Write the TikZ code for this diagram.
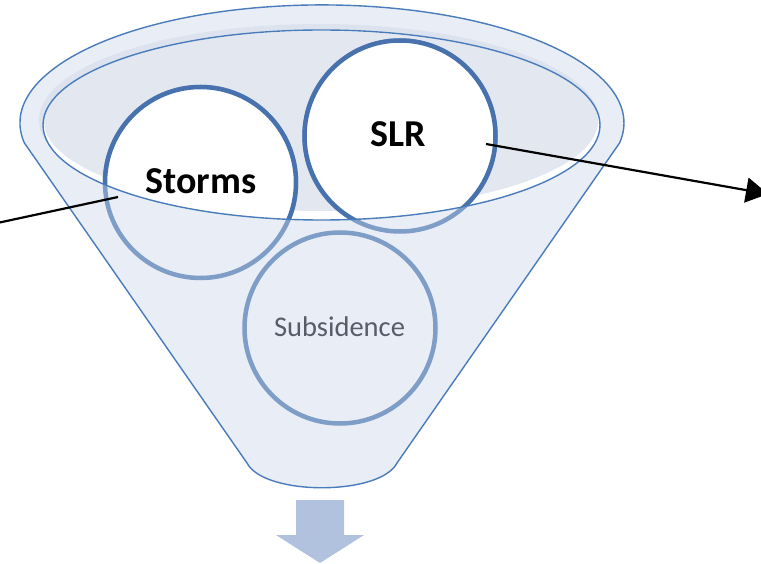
\documentclass[tikz,border=0pt]{standalone}
\usepackage{fontspec}
\setmainfont{Carlito}
\usetikzlibrary{arrows.meta}
\definecolor{rimline}{HTML}{4A7CBB}
\definecolor{funfill}{HTML}{E9EDF5}
\definecolor{bandfill}{HTML}{DCE3EE}
\definecolor{innerfill}{HTML}{E2E7F0}
\definecolor{darkring}{HTML}{4872AD}
\definecolor{lightring}{HTML}{7E9DC7}
\definecolor{subtext}{HTML}{555C6A}
\definecolor{arrowfill}{HTML}{B0C2DD}
\tikzset{
  funnelline/.style={draw=rimline, line width=1.4pt},
  ringlight/.style={draw=lightring, line width=4.5pt, fill=funfill},
  ringdark/.style={draw=darkring, line width=4.5pt, fill=white},
  boldlab/.style={font=\bfseries\fontsize{38}{40}\selectfont, text=black, inner sep=0pt},
  sublab/.style={font=\fontsize{28.5}{30}\selectfont, text=subtext, inner sep=0pt},
  conn/.style={draw=black, line width=2.2pt},
}
\begin{document}
\begin{tikzpicture}[x=1pt,y=-1pt]
\useasboundingbox (0,0) rectangle (761,564);
\clip (0,0) rectangle (761,564);
% funnel body
\coordinate (BL) at (247,463);
\coordinate (BR) at (397,463);
\coordinate (TL) at (24.4,143);
\path[funnelline, fill=funfill] (BL) -- (TL)
  arc[start angle=170.2, end angle=369.8, x radius=302, y radius=118]
  -- (BR) .. controls (380,496) and (264,496) .. (BL) -- cycle;
% rim shading
\fill[bandfill] (319,120) ellipse [x radius=280, y radius=96];
\fill[white] (321.5,125) ellipse [x radius=278.5, y radius=95];
\fill[innerfill] (321,121) ellipse [x radius=277, y radius=90];
% circle centres
\coordinate (cS) at (200.5,182.5);
\coordinate (cR) at (400,136);
\coordinate (cB) at (340,328);
% circles, part in front of the funnel body
\path[ringlight] (cS) circle (95.5);
\path[ringlight] (cR) circle (95.5);
\path[ringlight] (cB) circle (95.5);
% circles, part inside the funnel mouth
\begin{scope}
  \clip (321.5,125) ellipse [x radius=278.5, y radius=95];
  \path[ringdark] (cS) circle (95.5);
  \path[ringdark] (cR) circle (95.5);
\end{scope}
% mouth line
\draw[funnelline] (321.5,125) ellipse [x radius=278.5, y radius=95];
% labels
\node[boldlab] (storms) at (201,181) {Storms};
\node[boldlab] (slr) at (398.5,134) {SLR};
\node[sublab] (subs) at (339.5,327) {Subsidence};
% connectors
\coordinate (leftEnd) at (-5,223.5);
\coordinate (stormsIn) at (118,197);
\draw[conn] (leftEnd) -- (stormsIn);
\coordinate (slrIn) at (486,144);
\coordinate (rightTip) at (768,194);
\draw[conn, -{Triangle[length=22pt, width=25pt]}] (slrIn) -- (rightTip);
% output arrow
\fill[arrowfill] (296,500) -- (344,500) -- (344,535) -- (364,535) -- (320,563)
  -- (276,535) -- (296,535) -- cycle;
\end{tikzpicture}
\end{document}
